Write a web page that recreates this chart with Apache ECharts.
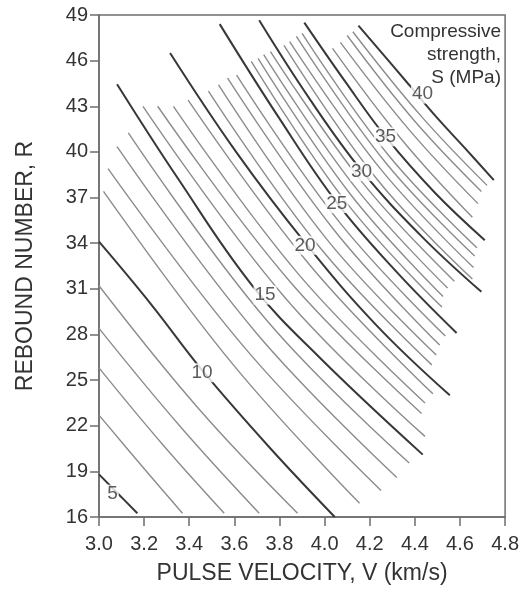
<!DOCTYPE html>
<html>
<head>
<meta charset="utf-8">
<script src="https://cdn.jsdelivr.net/npm/echarts@6/dist/echarts.min.js"></script>
<style>
html,body{margin:0;padding:0;background:#fff;}
#chart{width:522px;height:590px;}
</style>
</head>
<body>
<div id="chart"></div>
<script>
// Axis ranges / ticks
const xTickStart = 3.0, xTickEnd = 4.8, xTickStep = 0.2;
const yTickStart = 16, yTickEnd = 49, yTickStep = 3;

// Contour lines of compressive strength S (MPa): points [V (km/s), R]
const c05 = [[3.0,18.8],[3.09,17.45],[3.17,16.25]];
const c06 = [[3.0,22.7],[3.19,19.35],[3.37,16.25]];
const c07 = [[3.0,25.8],[3.28,20.8],[3.555,16.25]];
const c08 = [[3.0,28.4],[3.36,21.95],[3.71,16.25]];
const c09 = [[3.0,31.2],[3.44,23.15],[3.88,16.25]];
const c10 = [[3.0,34.1],[3.23,30.0],[3.46,25.6],[3.76,20.5],[4.045,16.0]];
const c11 = [[3.02,37.4],[3.59,26.1],[4.155,16.9]];
const c12 = [[3.04,38.9],[3.65,27.05],[4.25,17.75]];
const c13 = [[3.08,40.35],[3.70,28.05],[4.32,18.6]];
const c14 = [[3.13,41.25],[3.745,28.9],[4.375,19.55]];
const c15 = [[3.08,44.45],[3.35,38.25],[3.68,31.2],[3.98,26.45],[4.435,20.1]];
const c16 = [[3.195,43.0],[3.82,30.5],[4.445,21.3]];
const c17 = [[3.26,43.0],[3.845,31.5],[4.43,22.8]];
const c18 = [[3.33,43.0],[3.885,31.95],[4.445,23.5]];
const c19 = [[3.395,43.4],[3.935,32.55],[4.48,24.1]];
const c20 = [[3.315,46.5],[3.61,39.95],[3.915,34.0],[4.23,28.6],[4.555,24.0]];
const c21 = [[3.485,44.0],[3.98,33.7],[4.475,26.0]];
const c22 = [[3.53,44.4],[4.01,34.25],[4.495,26.65]];
const c23 = [[3.57,44.85],[4.04,34.9],[4.51,27.3]];
const c24 = [[3.61,45.05],[4.07,35.3],[4.535,27.9]];
const c25 = [[3.535,48.4],[3.795,42.3],[4.055,36.65],[4.32,32.1],[4.585,28.1]];
const c26 = [[3.675,45.95],[4.095,36.7],[4.52,29.8]];
const c27 = [[3.705,46.15],[4.115,37.2],[4.525,30.5]];
const c28 = [[3.73,46.4],[4.14,37.6],[4.545,31.05]];
const c29 = [[3.76,46.6],[4.17,37.95],[4.575,31.5]];
const c30 = [[3.71,48.65],[3.935,43.45],[4.165,38.75],[4.43,34.45],[4.695,30.8]];
const c31 = [[3.82,47.0],[4.235,38.15],[4.655,31.65]];
const c32 = [[3.845,47.25],[4.255,38.75],[4.66,32.4]];
const c33 = [[3.875,47.6],[4.27,39.3],[4.665,33.15]];
const c34 = [[3.9,47.8],[4.285,39.75],[4.675,33.7]];
const c35 = [[3.91,48.5],[4.09,44.65],[4.27,41.0],[4.49,37.3],[4.71,34.2]];
const c36 = [[4.035,46.8],[4.345,40.75],[4.655,35.7]];
const c37 = [[4.07,47.2],[4.375,41.45],[4.68,36.6]];
const c38 = [[4.1,47.65],[4.395,42.1],[4.695,37.4]];
const c39 = [[4.125,47.9],[4.425,42.4],[4.72,37.8]];
const c40 = [[4.15,48.3],[4.375,44.4],[4.495,42.3],[4.625,40.2],[4.75,38.15]];

const strengths = [5,6,7,8,9,10,11,12,13,14,15,16,17,18,19,20,21,22,23,24,25,26,27,28,29,30,31,32,33,34,35,36,37,38,39,40];
const contours = [c05,c06,c07,c08,c09,c10,c11,c12,c13,c14,c15,c16,c17,c18,c19,c20,c21,c22,c23,c24,c25,c26,c27,c28,c29,c30,c31,c32,c33,c34,c35,c36,c37,c38,c39,c40];

// Contour labels
const labelS = [5,10,15,20,25,30,35,40];
const labelV = [3.06,3.457,3.736,3.913,4.054,4.164,4.27,4.434];
const labelR = [17.5,25.48,30.59,33.86,36.6,38.7,40.99,43.8];

const FONT = '"Liberation Sans", Arial, Helvetica, sans-serif';
const axisColor = '#6e6e6e';
const textColor = '#333';

const chart = echarts.init(document.getElementById('chart'), null, {renderer:'canvas'});

const series = contours.map((pts, i) => {
  const bold = strengths[i] % 5 === 0;
  return {
    type: 'line',
    name: 'S=' + strengths[i],
    data: pts,
    showSymbol: false,
    symbol: 'none',
    smooth: 0.4,
    silent: true,
    z: bold ? 3 : 2,
    lineStyle: {
      color: bold ? '#383838' : '#8c8c8c',
      width: bold ? 2 : 1.4
    }
  };
});

series.push({
  type: 'scatter',
  symbolSize: 0,
  silent: true,
  z: 10,
  data: labelS.map((s, i) => ({name: String(s), value: [labelV[i], labelR[i]]})),
  label: {
    show: true,
    position: 'inside',
    formatter: '{b}',
    fontFamily: FONT,
    fontSize: 19,
    color: textColor,
    backgroundColor: '#fff',
    padding: [0, 1]
  }
});

const option = {
  animation: false,
  backgroundColor: '#fff',
  grid: {
    left: 99, right: 16, top: 15, bottom: 70,
    show: true, borderColor: axisColor, borderWidth: 1.5, backgroundColor: 'transparent'
  },
  xAxis: {
    type: 'value',
    min: xTickStart, max: xTickEnd, interval: xTickStep,
    name: 'PULSE VELOCITY, V (km/s)',
    nameLocation: 'middle',
    nameGap: 45,
    nameTextStyle: {fontFamily: FONT, fontSize: 23, color: textColor},
    axisLine: {show: true, lineStyle: {color: axisColor, width: 1.5}},
    axisTick: {show: true, inside: false, length: 9, lineStyle: {color: axisColor, width: 1.5}},
    axisLabel: {
      margin: 17, fontFamily: FONT, fontSize: 20, color: textColor,
      formatter: v => v.toFixed(1)
    },
    splitLine: {show: false}
  },
  yAxis: {
    type: 'value',
    min: yTickStart, max: yTickEnd, interval: yTickStep,
    name: 'REBOUND NUMBER, R',
    nameLocation: 'middle',
    nameGap: 62,
    nameTextStyle: {fontFamily: FONT, fontSize: 23, color: textColor},
    axisLine: {show: true, lineStyle: {color: axisColor, width: 1.5}},
    axisTick: {show: true, inside: false, length: 9, lineStyle: {color: axisColor, width: 1.5}},
    axisLabel: {margin: 11, fontFamily: FONT, fontSize: 20, color: textColor},
    splitLine: {show: false}
  },
  graphic: [{
    type: 'text',
    right: 21,
    top: 20,
    z: 20,
    style: {
      text: 'Compressive\nstrength,\nS (MPa)',
      textAlign: 'right',
      font: '19px ' + FONT,
      lineHeight: 23,
      fill: textColor
    }
  }],
  series: series
};

chart.setOption(option);
</script>
</body>
</html>
